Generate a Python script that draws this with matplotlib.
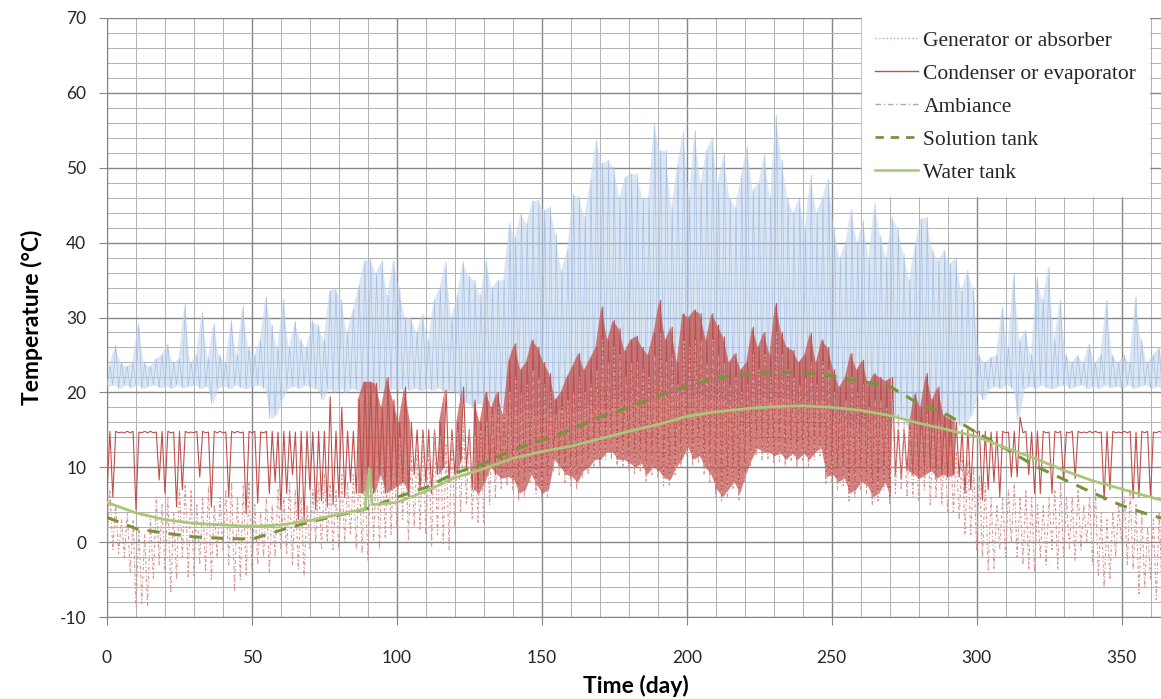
import matplotlib
matplotlib.use('Agg')
import matplotlib.pyplot as plt
from matplotlib.lines import Line2D
from matplotlib.ticker import MultipleLocator
import numpy as np

plt.rcParams['axes.unicode_minus'] = False

C = {
    'gen': '#A3BCE0',
    'gen_fill': '#BFD2EC',
    'cond': '#C0504D',
    'cond_fill': '#C0504D',
    'amb': '#D99694',
    'sol': '#77933C',
    'water': '#A9C77A',
    'major': '#868686',
    'minor': '#B2B2B2',
    'text': '#262626',
}

# === DATA (one peak / one trough per 2-day window) ===
days = np.arange(0, 365, 2)

gen_hi = [
    23.5, 26.3, 24.0, 23.5, 24.0, 29.2, 24.0, 23.5, 24.5, 25.0,
    26.5, 24.0, 24.5, 31.9, 24.0, 25.0, 30.7, 24.5, 29.2, 25.0,
    24.0, 29.6, 25.0, 31.6, 26.0, 25.0, 27.0, 32.8, 29.0, 26.0,
    32.5, 26.0, 29.5, 27.0, 26.0, 29.6, 29.0, 27.0, 33.6, 33.9,
    32.4, 28.0, 31.0, 34.2, 37.6, 37.8, 35.9, 37.6, 33.0, 37.6,
    34.0, 30.0, 30.0, 28.0, 30.5, 27.0, 32.3, 34.0, 37.4, 30.0,
    33.0, 37.4, 35.6, 35.0, 33.0, 37.6, 34.0, 35.0, 35.0, 42.6,
    40.7, 43.9, 42.6, 45.6, 45.7, 44.3, 44.8, 41.2, 36.3, 39.0,
    46.5, 46.1, 43.5, 48.3, 53.7, 50.6, 51.0, 50.1, 46.0, 48.8,
    49.2, 49.2, 46.0, 46.0, 55.9, 52.3, 52.3, 44.7, 50.3, 54.8,
    46.0, 55.0, 48.0, 52.3, 54.0, 48.0, 51.9, 46.0, 44.7, 49.0,
    52.8, 47.0, 48.0, 51.9, 46.0, 57.0, 51.0, 46.0, 44.0, 46.0,
    42.0, 49.0, 44.0, 46.0, 48.5, 42.0, 38.0, 40.0, 44.5, 40.0,
    43.0, 38.0, 45.2, 41.0, 38.0, 43.4, 42.0, 38.5, 35.0, 39.9,
    43.2, 43.4, 39.0, 37.6, 39.0, 37.2, 38.0, 33.6, 36.3, 34.0,
    25.0, 24.0, 24.7, 25.0, 31.4, 26.0, 35.9, 27.0, 28.3, 25.0,
    35.4, 32.3, 36.8, 27.0, 32.3, 25.0, 24.0, 25.0, 24.0, 26.5,
    24.0, 25.0, 32.3, 25.0, 24.0, 25.0, 24.0, 32.8, 27.0, 24.0,
    25.0, 26.0, 24.0,
]
gen_lo = [
    20.8, 21.0, 20.5, 21.0, 20.6, 21.0, 20.5, 20.8, 21.0, 20.6,
    20.8, 20.5, 21.0, 20.6, 20.8, 21.0, 20.5, 20.8, 18.5, 20.6,
    20.8, 20.5, 21.0, 20.6, 20.5, 20.8, 21.0, 20.5, 16.5, 17.0,
    19.0, 20.5, 20.8, 20.5, 21.0, 20.6, 20.5, 19.0, 20.5, 20.0,
    20.5, 20.0, 20.5, 20.3, 20.0, 20.5, 20.0, 20.3, 20.0, 20.5,
    20.3, 20.5, 20.3, 20.6, 20.2, 20.5, 20.3, 20.6, 20.0, 20.3,
    20.0, 19.0, 18.5, 18.0, 18.5, 18.0, 18.5, 17.5, 18.0, 17.0,
    17.5, 17.0, 18.0, 17.5, 17.0, 18.0, 17.5, 17.0, 18.0, 17.5,
    18.0, 17.5, 18.0, 18.5, 18.0, 18.5, 18.0, 19.0, 18.5, 19.0,
    19.0, 18.5, 19.0, 19.5, 19.0, 19.5, 19.0, 19.5, 20.0, 19.5,
    20.0, 19.5, 20.0, 19.5, 19.0, 19.5, 19.0, 18.5, 19.0, 18.5,
    19.0, 18.5, 19.0, 19.5, 19.0, 19.5, 19.0, 19.5, 19.0, 18.5,
    19.0, 18.5, 18.0, 18.5, 18.0, 17.5, 17.0, 16.5, 15.5, 16.0,
    15.4, 16.0, 16.5, 17.0, 16.5, 16.0, 17.0, 16.5, 15.5, 16.0,
    15.5, 16.0, 15.5, 16.0, 15.8, 15.5, 16.0, 15.5, 16.0, 17.0,
    20.0, 19.0, 20.5, 20.8, 20.5, 21.0, 20.5, 16.3, 20.5, 20.8,
    20.5, 21.0, 20.6, 20.5, 20.8, 21.0, 20.5, 20.8, 21.0, 20.5,
    20.8, 20.5, 21.0, 20.6, 20.8, 20.5, 21.0, 20.5, 20.8, 21.0,
    20.6, 20.8, 20.5,
]

cond_hi = [
    14.8, 14.8, 14.7, 14.8, 14.8, 14.7, 14.8, 14.8, 14.7, 14.8,
    14.8, 14.7, 14.8, 14.8, 14.7, 14.8, 14.8, 14.7, 14.8, 14.8,
    14.7, 14.8, 14.8, 14.7, 14.8, 14.8, 14.7, 14.8, 14.8, 14.7,
    14.8, 14.8, 14.7, 14.8, 14.8, 14.7, 14.8, 14.8, 19.4, 14.8,
    18.0, 14.8, 14.8, 19.0, 21.4, 21.4, 21.2, 18.0, 22.0, 19.0,
    16.0, 20.7, 16.0, 15.0, 15.0, 15.0, 15.0, 16.0, 20.3, 15.0,
    16.0, 20.7, 15.0, 19.0, 16.0, 20.0, 18.0, 20.0, 17.0, 24.3,
    26.5, 23.0, 24.0, 27.0, 26.0, 24.0, 22.5, 19.0, 20.0, 22.0,
    23.5, 25.2, 23.0, 24.5, 26.0, 31.4, 27.0, 29.6, 28.5, 25.5,
    27.0, 27.5, 26.0, 25.0, 28.0, 32.3, 27.0, 28.7, 24.0, 30.5,
    30.0, 31.0, 30.5, 27.0, 30.5, 29.0, 27.4, 24.0, 25.2, 23.0,
    24.0, 28.7, 26.0, 28.0, 25.0, 31.9, 28.0, 26.0, 25.6, 24.0,
    25.0, 27.9, 24.0, 27.0, 26.0, 23.0, 20.7, 22.0, 25.2, 23.0,
    24.3, 21.0, 22.5, 22.0, 21.5, 22.0, 15.0, 15.0, 15.5, 19.8,
    18.0, 22.5, 19.0, 20.7, 17.0, 16.5, 16.0, 15.0, 15.0, 15.0,
    14.8, 14.8, 14.7, 14.8, 14.8, 14.7, 14.8, 16.7, 14.8, 14.7,
    14.8, 14.8, 14.7, 14.8, 14.8, 14.7, 14.8, 14.8, 14.7, 14.8,
    14.8, 14.7, 14.8, 14.8, 14.7, 14.8, 14.8, 14.7, 14.8, 14.8,
    14.7, 14.8, 14.8,
]
cond_lo = [
    6.5, 6.0, 14.6, 14.6, 14.6, 4.3, 14.6, 14.6, 14.6, 8.3,
    6.5, 14.6, 4.7, 7.0, 14.6, 14.6, 8.7, 14.6, 4.7, 14.6,
    14.6, 6.0, 14.6, 14.6, 3.8, 14.6, 5.2, 14.6, 6.5, 8.0,
    4.3, 6.5, 9.0, 3.0, 3.0, 7.0, 4.3, 5.5, 4.7, 5.0,
    6.0, 6.0, 8.0, 6.5, 6.5, 8.0, 6.5, 9.0, 6.5, 7.0,
    7.5, 8.0, 6.0, 9.0, 7.0, 8.0, 6.5, 9.0, 10.0, 8.0,
    9.0, 11.0, 10.0, 7.0, 6.5, 8.0, 10.0, 9.0, 8.5, 8.7,
    8.3, 6.5, 7.0, 9.0, 7.5, 6.5, 7.0, 11.0, 10.0, 9.0,
    8.7, 8.0, 9.5, 10.0, 11.0, 11.0, 12.0, 12.0, 11.0, 11.0,
    10.5, 10.0, 10.5, 9.0, 10.0, 9.5, 8.5, 8.3, 10.0, 11.0,
    12.7, 11.0, 11.5, 10.0, 9.0, 7.0, 6.0, 7.0, 8.0, 6.5,
    9.0, 11.0, 12.5, 12.0, 12.0, 11.5, 11.8, 11.0, 11.8, 11.0,
    11.8, 11.0, 12.0, 12.5, 8.7, 9.0, 8.0, 8.5, 6.5, 7.0,
    8.0, 7.5, 6.0, 6.5, 8.0, 6.0, 9.0, 8.5, 9.5, 9.0,
    8.5, 9.0, 9.5, 8.5, 9.0, 8.7, 9.0, 8.7, 6.5, 7.0,
    14.6, 5.6, 7.0, 8.0, 6.0, 14.6, 8.7, 8.7, 14.6, 9.0,
    6.5, 6.5, 14.6, 6.5, 14.6, 8.3, 14.6, 8.5, 14.6, 14.6,
    14.6, 14.6, 5.6, 7.0, 14.6, 14.6, 14.6, 5.8, 6.0, 14.6,
    6.0, 14.6, 14.6,
]

amb_hi = [
    7.0, 5.0, 3.0, 4.0, 3.0, 2.0, 1.0, 3.0, 6.0, 5.0,
    6.0, 4.0, 7.0, 8.0, 7.0, 5.0, 6.0, 7.5, 5.0, 6.0,
    7.0, 8.0, 6.0, 7.5, 8.0, 5.0, 4.0, 6.0, 5.0, 7.0,
    6.0, 8.0, 7.0, 6.0, 5.0, 7.0, 8.0, 9.0, 8.0, 7.0,
    9.0, 8.0, 9.0, 10.0, 9.0, 10.0, 11.0, 12.0, 13.0, 12.0,
    14.0, 13.0, 12.0, 13.0, 14.0, 13.0, 15.0, 14.0, 13.0, 14.0,
    15.0, 16.0, 15.0, 14.0, 15.0, 16.0, 17.0, 18.0, 18.0, 20.0,
    22.0, 20.0, 21.0, 23.0, 22.0, 21.0, 20.0, 17.0, 18.0, 19.0,
    20.0, 22.0, 20.0, 21.0, 23.0, 27.0, 24.0, 26.0, 25.0, 22.0,
    24.0, 24.0, 23.0, 22.0, 25.0, 28.0, 24.0, 25.0, 21.0, 27.0,
    26.0, 27.0, 27.0, 24.0, 27.0, 25.0, 24.0, 21.0, 22.0, 20.0,
    21.0, 25.0, 23.0, 25.0, 22.0, 28.0, 25.0, 23.0, 22.0, 21.0,
    22.0, 24.0, 21.0, 24.0, 23.0, 20.0, 18.0, 19.0, 22.0, 20.0,
    21.0, 18.0, 19.0, 19.0, 18.0, 19.0, 17.0, 16.0, 15.0, 16.0,
    15.0, 17.0, 15.0, 16.0, 14.0, 13.0, 12.0, 12.0, 11.0, 10.0,
    9.0, 8.0, 6.0, 5.0, 6.0, 7.0, 8.0, 6.0, 7.0, 6.0,
    5.0, 5.0, 6.0, 7.0, 8.0, 6.0, 6.0, 7.0, 5.0, 6.0,
    7.0, 4.0, 3.0, 4.0, 5.0, 6.0, 7.0, 5.0, 4.0, 2.0,
    3.0, 4.0, 2.0,
]
amb_lo = [
    0.0, -1.0, -1.5, -2.0, -4.0, -8.6, -8.2, -8.5, -5.0, -3.0,
    -4.0, -6.8, -5.0, -2.0, -4.8, -4.5, -3.0, -4.0, -5.0, -2.0,
    -1.0, -3.0, -6.6, -5.0, -4.5, -3.7, -3.0, -2.0, -4.0, -2.0,
    -1.0, -1.5, -3.0, -3.6, -4.6, -1.0, 0.0, -1.0, 0.0, -1.0,
    -1.0, 0.0, 1.0, -1.0, -1.5, -2.4, 0.3, -1.0, 0.5, 1.0,
    2.0, 3.0, 0.3, 2.0, 1.6, 1.0, -0.5, 1.0, -0.2, -1.0,
    2.0, 4.0, 5.0, 3.0, 2.5, 2.5, 5.0, 6.0, 7.0, 7.5,
    7.0, 5.5, 6.0, 8.0, 6.5, 5.5, 6.0, 9.5, 9.0, 8.0,
    7.5, 7.0, 8.5, 9.0, 10.0, 10.0, 11.0, 11.0, 10.0, 10.0,
    9.5, 9.0, 9.5, 8.0, 9.0, 8.5, 7.5, 7.5, 9.0, 10.0,
    11.5, 10.0, 10.5, 9.0, 8.0, 6.0, 5.5, 6.0, 7.0, 5.5,
    8.0, 10.0, 11.5, 11.0, 11.0, 10.5, 10.8, 10.0, 10.8, 10.0,
    10.8, 10.0, 11.0, 11.5, 7.7, 8.0, 7.0, 7.5, 5.5, 6.0,
    7.0, 6.5, 5.0, 5.5, 7.0, 5.0, 6.5, 7.0, 6.0, 6.0,
    5.5, 7.0, 5.0, 6.0, 5.0, 4.0, 4.0, 3.0, 1.0, 1.0,
    -1.0, -2.0, -3.7, -3.5, -1.0, -2.0, -0.2, -2.0, -3.0, -3.7,
    -4.0, -2.0, -3.0, -1.0, -3.7, -2.0, -1.0, -2.5, -1.0, 0.0,
    -3.0, -4.6, -6.0, -5.0, -2.0, 0.0, -3.0, -3.7, -6.9, -6.0,
    -5.0, -7.7, -7.0,
]

tank_days = [0, 10, 20, 30, 40, 50, 60, 70, 80, 89, 90.5, 91.5, 100, 110, 120, 130,
             140, 150, 160, 170, 180, 190, 200, 210, 220, 230, 240, 250, 260, 270,
             280, 290, 300, 310, 320, 330, 340, 350, 360, 364]
water_tank = [5.3, 3.9, 3.0, 2.5, 2.3, 2.1, 2.3, 2.9, 3.7, 4.4, 9.8, 5.0, 5.3, 6.8, 8.6, 9.8,
              11.2, 12.1, 12.8, 13.8, 14.8, 15.7, 16.8, 17.4, 17.8, 18.1, 18.2, 18.0, 17.6, 16.9,
              15.9, 15.0, 14.1, 12.6, 11.2, 9.6, 8.2, 7.1, 6.0, 5.6]
solution_tank = [3.3, 1.8, 1.2, 0.7, 0.5, 0.4, 1.6, 2.7, 3.6, 4.4, 4.6, 4.7, 6.0, 7.3, 9.2, 10.5,
                 12.3, 13.6, 15.0, 16.7, 18.0, 19.5, 20.8, 21.9, 22.4, 22.7, 22.6, 22.2, 21.5, 20.8,
                 18.5, 17.0, 14.6, 12.5, 10.2, 8.4, 6.6, 4.9, 3.6, 3.2]


def zigzag(lo, hi):
    # trough at the start of each window, peak one day later
    t = np.empty(2 * len(days))
    y = np.empty(2 * len(days))
    t[0::2] = days
    t[1::2] = days + 1
    y[0::2] = lo
    y[1::2] = hi
    return t, y


fig = plt.figure(figsize=(11.61, 6.99), dpi=100)
fig.patch.set_facecolor('white')
ax = fig.add_axes([107 / 1161, 82 / 699, 1058 / 1161, 599 / 699])

mid = days + 0.5
gen_hi_a, gen_lo_a = np.array(gen_hi), np.array(gen_lo)
cond_hi_a, cond_lo_a = np.array(cond_hi), np.array(cond_lo)

# generator / absorber: light translucent envelope + thin spikes
ax.fill_between(mid, gen_lo_a, gen_hi_a, color=C['gen_fill'], lw=0, alpha=0.55, zorder=2)
t, y = zigzag(gen_lo, gen_hi)
ax.plot(t, y, color=C['gen'], lw=0.45, zorder=3)

# condenser / evaporator: dense mass where it leaves the 14.8 plateau upward
active = cond_hi_a > 15.2
ax.fill_between(mid, cond_lo_a, cond_hi_a, where=active, color=C['cond_fill'], lw=0,
                alpha=0.72, zorder=3.5)
t, y = zigzag(cond_lo, cond_hi)
ax.plot(t, y, color=C['cond'], lw=0.8, zorder=4)

t, y = zigzag(amb_lo, amb_hi)
ax.plot(t, y, color=C['amb'], lw=0.8, ls=(0, (3, 2, 1, 2)), zorder=5)

ax.plot(tank_days, solution_tank, color=C['sol'], lw=2.2, ls=(0, (4, 3)), zorder=6)
ax.plot(tank_days, water_tank, color=C['water'], lw=2.0, zorder=7)

ax.set_xlim(0, 365)
ax.set_ylim(-10, 70)
ax.xaxis.set_major_locator(MultipleLocator(50))
ax.xaxis.set_minor_locator(MultipleLocator(10))
ax.yaxis.set_major_locator(MultipleLocator(10))
ax.yaxis.set_minor_locator(MultipleLocator(2))
ax.grid(which='major', color=C['major'], lw=1.0, zorder=1)
ax.grid(which='minor', color=C['minor'], lw=0.7, zorder=1)
ax.set_axisbelow(True)

for s in ['top', 'right']:
    ax.spines[s].set_visible(False)
for s in ['left', 'bottom']:
    ax.spines[s].set_color(C['major'])
ax.tick_params(which='major', length=6, color=C['major'], labelsize=12.5,
               labelcolor=C['text'], labelfontfamily='Lato')
ax.tick_params(axis='x', which='major', pad=18)
ax.tick_params(axis='y', which='major', pad=9)
ax.tick_params(which='minor', length=0)

ax.set_xlabel('Time (day)', fontsize=16.5, fontweight='bold', family='Lato',
              color='black', labelpad=6)
ax.set_ylabel('Temperature (\u00b0C)', fontsize=16.5, fontweight='bold', family='Lato',
              color='black', labelpad=12)

handles = [
    Line2D([], [], color='#95B3D7', lw=1.0, ls=':'),
    Line2D([], [], color=C['cond'], lw=1.0),
    Line2D([], [], color='#B0A8A8', lw=1.0, ls=(0, (4, 2, 1, 2))),
    Line2D([], [], color=C['sol'], lw=2.0, ls=(0, (3, 2.5))),
    Line2D([], [], color=C['water'], lw=1.8),
]
labels = ['Generator or absorber', 'Condenser or evaporator', 'Ambiance',
          'Solution tank', 'Water tank']
leg = ax.legend(handles, labels, loc='upper left', bbox_to_anchor=(0.7136, 1.0),
                borderaxespad=0, frameon=True, fancybox=False, framealpha=1,
                facecolor='white', edgecolor='white', handlelength=2.0,
                handletextpad=0.25, labelspacing=0.6, borderpad=0.6,
                prop={'family': 'Liberation Serif', 'size': 15.5})
leg.set_zorder(10)
for txt in leg.get_texts():
    txt.set_color(C['text'])

fig.savefig('out.png', dpi=100, facecolor='white')
